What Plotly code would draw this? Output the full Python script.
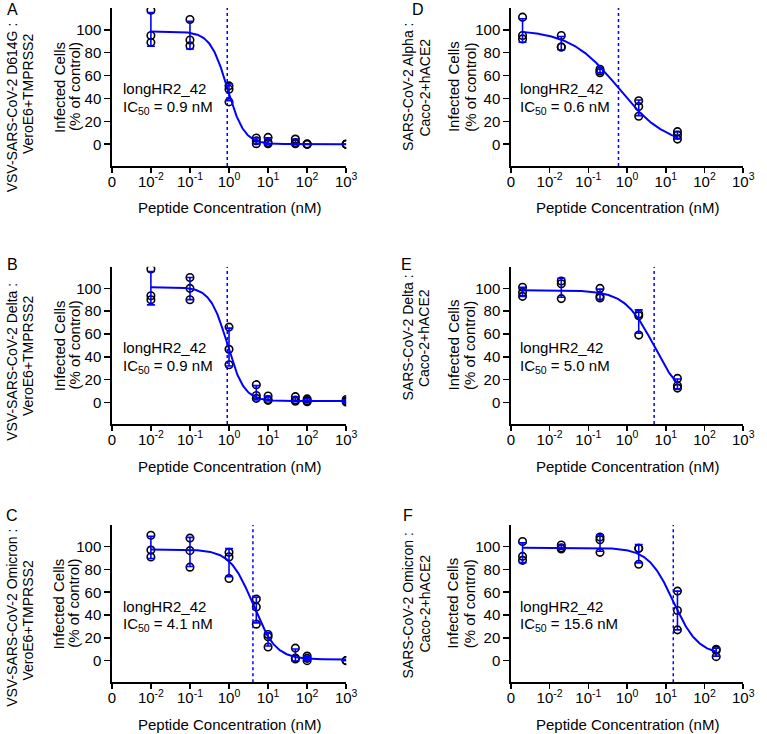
import numpy as np
import plotly.graph_objects as go

# ---------------- data ----------------
conc_vero = [0.01, 0.1, 1, 5, 10, 50, 100, 1000]
conc_caco = [0.002, 0.02, 0.2, 2, 20]
conc_caco_f = [0.002, 0.02, 0.2, 2, 20, 200]

# replicates (3 per concentration), % of control
A_vals = [[117, 95, 89], [109, 91, 86], [51, 48, 37], [5.5, 3, 0.5],
          [6, 1.5, 0.5], [4.5, 1.5, 0.5], [0.3, 0, 0], [0, 0, 0.2]]
B_vals = [[117, 93.5, 90], [109.5, 100, 90], [66, 46.5, 33], [15.5, 6, 3.5],
          [5.5, 2.5, 1.7], [5, 2, 1], [3, 1.5, 0.6], [2.5, 1.2, 0.3]]
C_vals = [[110, 97, 91], [107.5, 96.5, 82], [95, 91, 72], [54, 47, 32],
          [23, 21, 12], [11, 2.3, 1.5], [4, 2, 0], [0, 0, 0]]
D_vals = [[111, 95, 92], [95, 85, 85], [65.5, 64, 62.5], [38, 33, 24.5], [11, 8, 4.5]]
E_vals = [[101, 96.5, 93], [106.5, 104, 91], [100, 93, 91.5], [77.5, 76, 59], [21, 14.5, 12.5]]
F_vals = [[104.5, 91.5, 88], [101.5, 99, 98], [108.5, 106, 95], [98.5, 98.5, 84.5],
          [61, 44, 27], [10, 9, 3.5]]

# fitted 4PL parameters: top, bottom, IC50 (nM), hill slope
fit_top = [98.5, 101, 97.5, 100, 98.3, 99]
fit_bottom = [0, 1.2, 1, -2, 0, 5]
fit_ic50 = [0.9, 0.9, 4.1, 0.6, 5.0, 15.6]
fit_hill = [2.0, 2.0, 1.5, 0.7, 1.15, 1.35]

panel_letters = ["A", "B", "C", "D", "E", "F"]
virus_labels = ["VSV-SARS-CoV-2 D614G :", "VSV-SARS-CoV-2 Delta :", "VSV-SARS-CoV-2 Omicron :",
                "SARS-CoV-2 Alpha :", "SARS-CoV-2 Delta :", "SARS-CoV-2 Omicron :"]
cell_labels = ["VeroE6+TMPRSS2", "VeroE6+TMPRSS2", "VeroE6+TMPRSS2",
               "Caco-2+hACE2", "Caco-2+hACE2", "Caco-2+hACE2"]
ic50_text = ["0.9", "0.9", "4.1", "0.6", "5.0", "15.6"]
peptide = "longHR2_42"

x_tickvals = [0.001, 0.01, 0.1, 1, 10, 100, 1000]
x_ticktext = ["0", "10<sup>-2</sup>", "10<sup>-1</sup>", "10<sup>0</sup>",
              "10<sup>1</sup>", "10<sup>2</sup>", "10<sup>3</sup>"]
y_tickvals = [0, 20, 40, 60, 80, 100]

concs = [conc_vero, conc_vero, conc_vero, conc_caco, conc_caco, conc_caco_f]
vals = [A_vals, B_vals, C_vals, D_vals, E_vals, F_vals]

# ---------------- layout geometry (pixels) ----------------
W, H = 767, 734
col_x = [(110, 349), (517, 754)]
row_y = [(8, 166), (266.7, 424), (525, 682.3)]
Y_RANGE = [-19, 119]

virus_pos = [(8, 107.5), (8, 362), (8, 618), (412, 87), (412, 337.5), (412, 605.5)]
cell_pos = [(24, 94.5), (24, 356.5), (24, 621), (429, 88), (429, 338.5), (429, 604)]
letter_pos = [(8.5, 9.5), (8.5, 264), (8.5, 515.5), (422, 9.5), (411, 264), (412, 515.5)]
ytitle_x = [(56, 71.5), (458, 475)]
text_dx = [9.7, 7]

BLUE = "#0000ff"
FONT = "Liberation Sans, Arial, sans-serif"


def px(x):
    return x / W


def py(y):
    return 1 - y / H


fig = go.Figure()
annotations = []
layout = {}

for i in range(6):
    col = i // 3
    row = i % 3
    n = i + 1
    xa = "x" if n == 1 else f"x{n}"
    ya = "y" if n == 1 else f"y{n}"
    x0, x1 = col_x[col]
    ytop, ybot = row_y[row]

    layout["xaxis" if n == 1 else f"xaxis{n}"] = dict(
        domain=[px(x0), px(x1)], anchor=ya, type="log", range=[-3, 3],
        tickvals=x_tickvals, ticktext=x_ticktext, ticks="outside", ticklen=5,
        tickwidth=1.6, tickcolor="black", showline=True, linewidth=1.6,
        linecolor="black", showgrid=False, zeroline=False, ticklabelstandoff=-4,
        tickfont=dict(family=FONT, size=15, color="black"),
    )
    layout["yaxis" if n == 1 else f"yaxis{n}"] = dict(
        domain=[py(ybot), py(ytop)], anchor=xa, range=Y_RANGE,
        tickvals=y_tickvals, ticks="outside", ticklen=6, tickwidth=1.6,
        tickcolor="black", showline=True, linewidth=1.6, linecolor="black",
        showgrid=False, zeroline=False,
        tickfont=dict(family=FONT, size=15, color="black"),
    )

    c = concs[i]
    v = vals[i]
    # replicate points
    xs, ys = [], []
    for cc, reps in zip(c, v):
        for r in reps:
            xs.append(cc)
            ys.append(r)
    fig.add_trace(go.Scatter(
        x=xs, y=ys, mode="markers", xaxis=xa, yaxis=ya, showlegend=False,
        marker=dict(symbol="circle-open", size=7.5, color="black",
                    line=dict(width=1.6, color="black")),
        hoverinfo="skip",
    ))
    # mean +/- SD
    means = [float(np.mean(r)) for r in v]
    sds = [float(np.std(r, ddof=1)) for r in v]
    fig.add_trace(go.Scatter(
        x=c, y=means, mode="markers", xaxis=xa, yaxis=ya, showlegend=False,
        marker=dict(size=1, color="rgba(0,0,0,0)"),
        error_y=dict(type="data", array=sds, symmetric=True, color=BLUE,
                     thickness=1.6, width=4),
        hoverinfo="skip",
    ))
    # IC50 dotted line
    fig.add_trace(go.Scatter(
        x=[fit_ic50[i], fit_ic50[i]], y=Y_RANGE, mode="lines", xaxis=xa, yaxis=ya,
        showlegend=False, line=dict(color=BLUE, width=1.5, dash="dot"),
        hoverinfo="skip",
    ))
    # fitted curve
    xc = np.logspace(np.log10(c[0]), np.log10(c[-1]), 300)
    yc = fit_bottom[i] + (fit_top[i] - fit_bottom[i]) / (1 + (xc / fit_ic50[i]) ** fit_hill[i])
    fig.add_trace(go.Scatter(
        x=xc, y=yc, mode="lines", xaxis=xa, yaxis=ya, showlegend=False,
        line=dict(color=BLUE, width=2), hoverinfo="skip",
    ))

    # annotations
    def ann(text, x, y, size=15, angle=0, xanchor="center", yanchor="middle"):
        annotations.append(dict(
            text=text, x=px(x), y=py(y), xref="paper", yref="paper",
            showarrow=False, textangle=angle, xanchor=xanchor, yanchor=yanchor,
            font=dict(family=FONT, size=size, color="black"),
        ))

    ann(panel_letters[i], *letter_pos[i], size=16)
    ann(virus_labels[i], *virus_pos[i], size=14, angle=-90)
    ann(cell_labels[i], *cell_pos[i], size=14, angle=-90)
    ymid = (ytop + ybot) / 2
    ann("Infected Cells", ytitle_x[col][0], ymid, size=15, angle=-90)
    ann("(% of control)", ytitle_x[col][1], ymid, size=15, angle=-90)
    ann("Peptide Concentration (nM)", (x0 + x1) / 2, ybot + 42, size=15)
    ann(peptide, x0 + text_dx[col], ytop + 81, size=15, xanchor="left")
    ann(f"IC<sub>50</sub> = {ic50_text[i]} nM", x0 + text_dx[col], ytop + 99.5,
        size=15, xanchor="left")

fig.update_layout(
    width=W, height=H, autosize=False,
    margin=dict(l=0, r=0, t=0, b=0, pad=0),
    paper_bgcolor="white", plot_bgcolor="white",
    hovermode=False,
    annotations=annotations, **layout,
)

fig.write_html(
    "out.html",
    config={"displayModeBar": False, "staticPlot": True},
    post_script="document.body.style.margin='0';document.body.style.overflow='hidden';",
)
